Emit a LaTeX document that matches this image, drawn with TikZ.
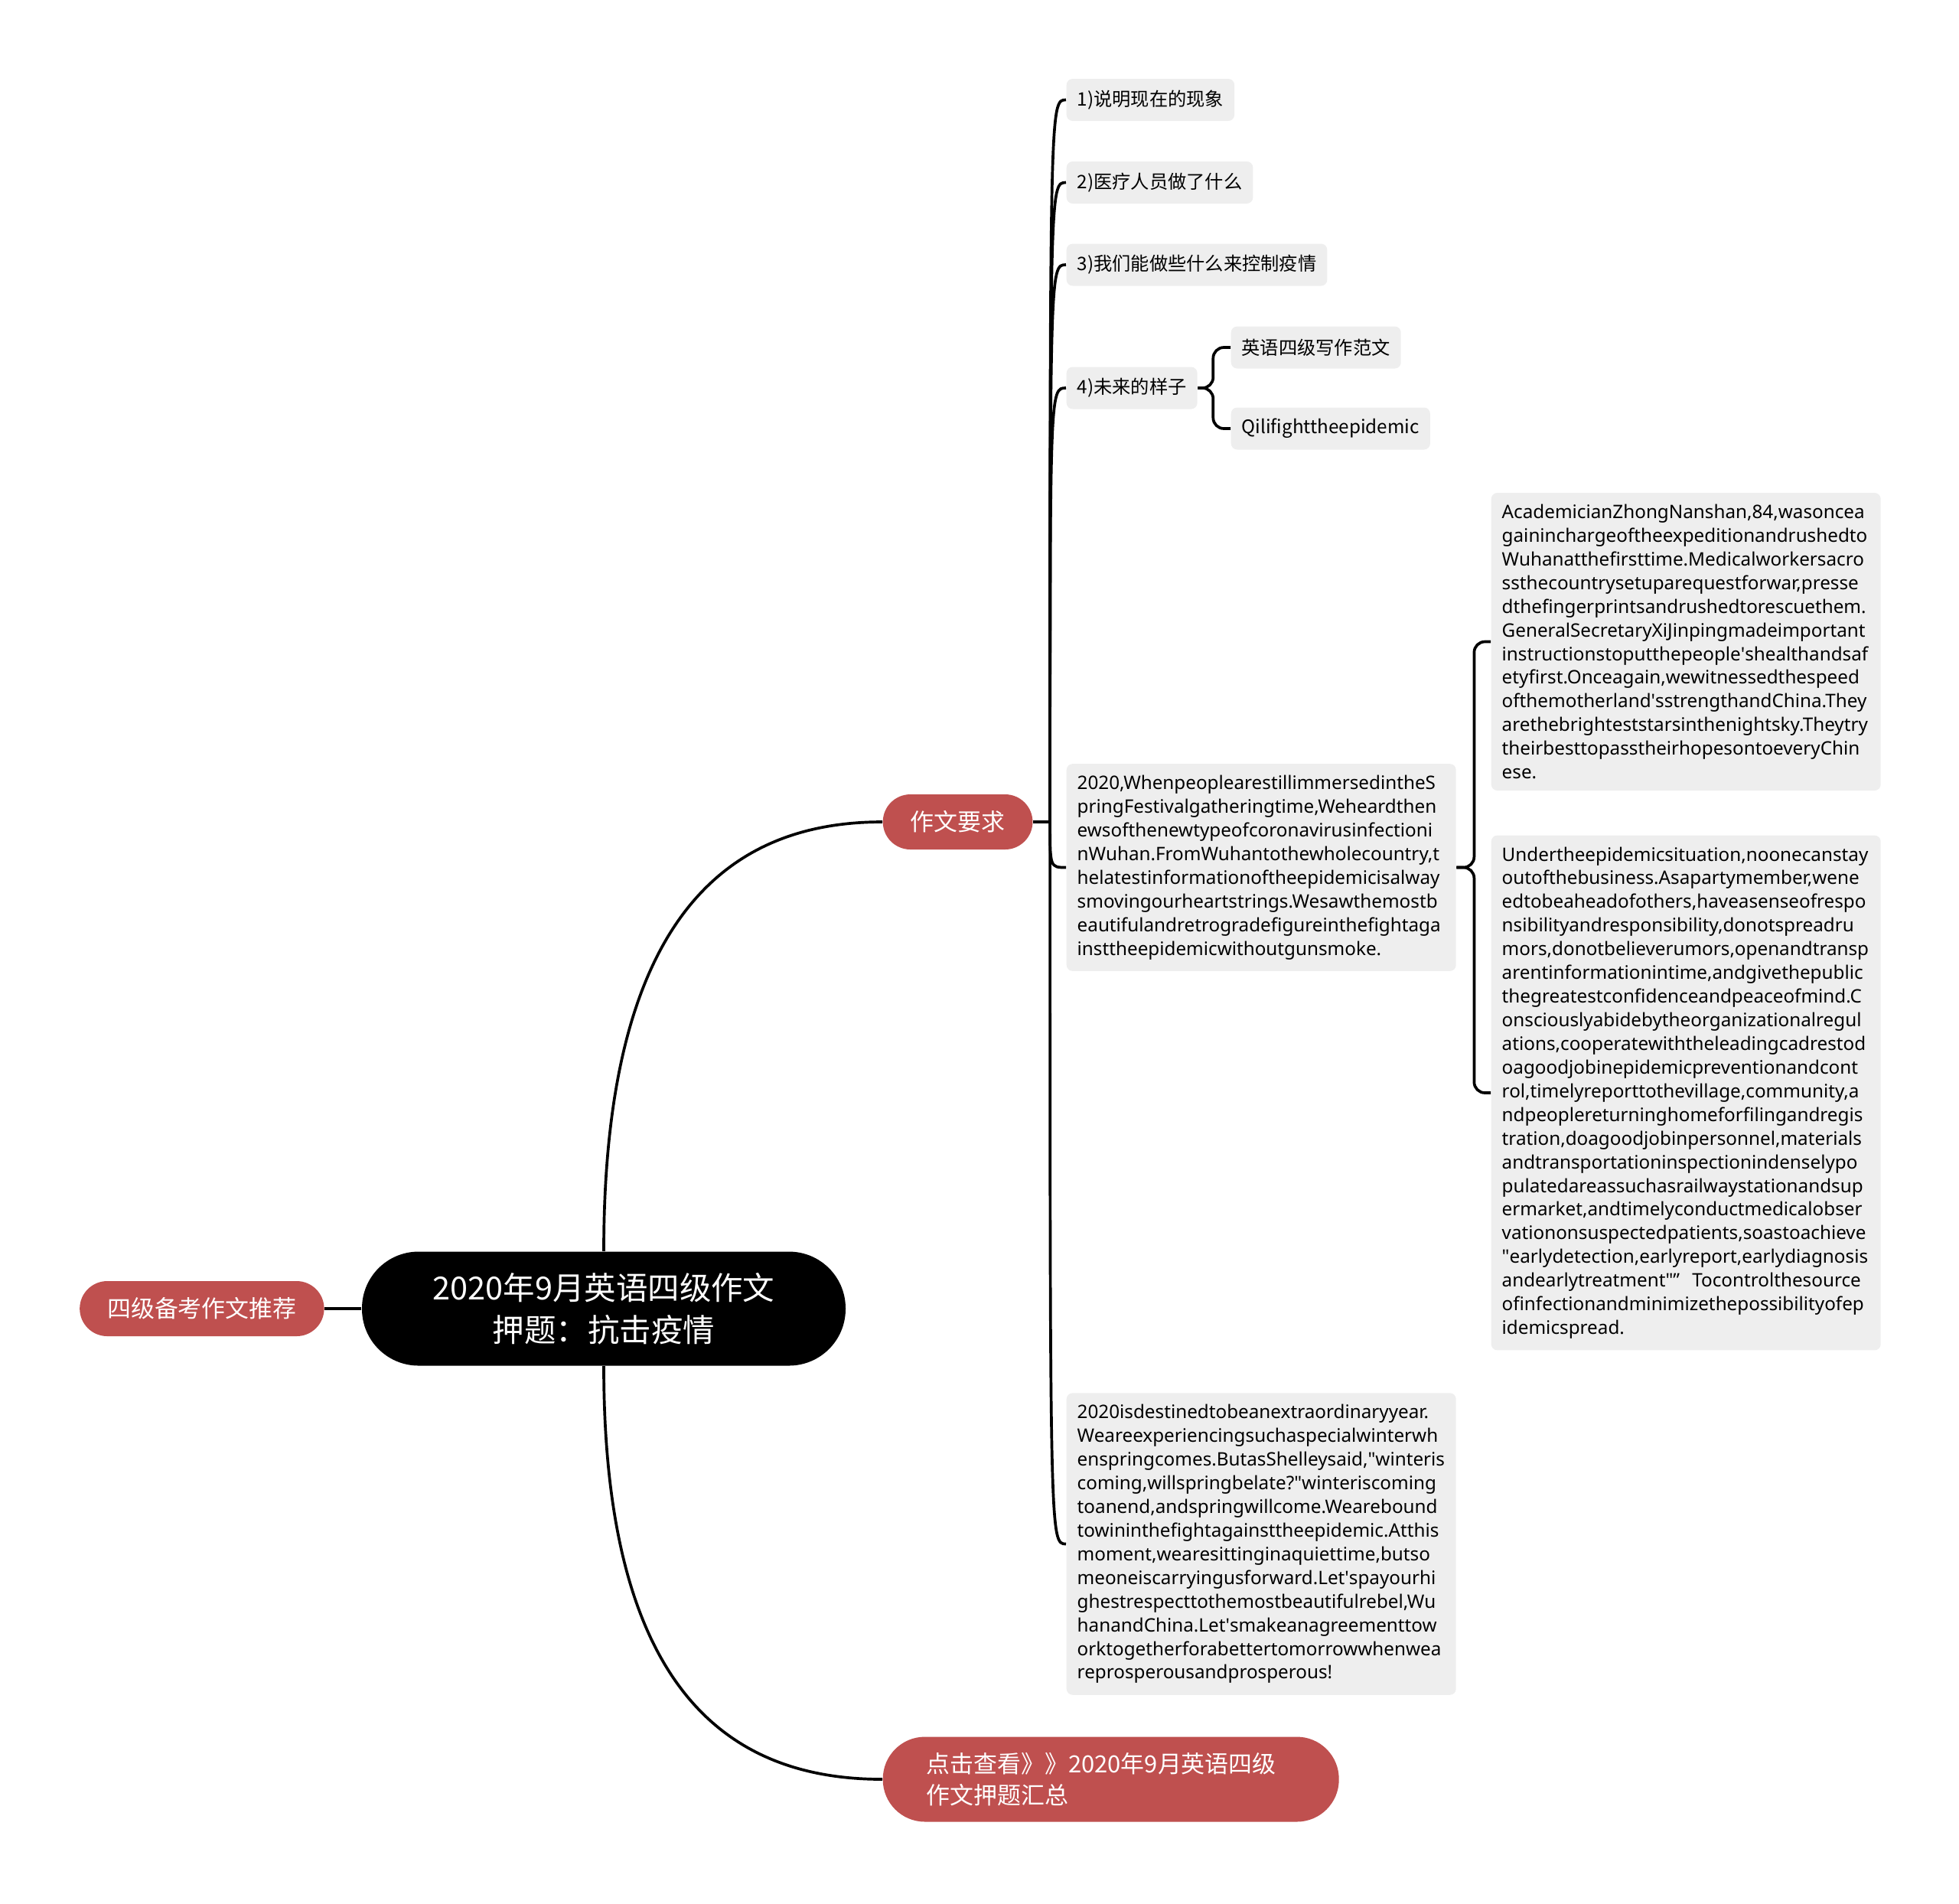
\documentclass[tikz,border=0pt]{standalone}
\usepackage{fontspec}
\setmainfont{Noto Sans}
\newfontfamily\cjk{Noto Sans CJK SC}
\usepackage{tikz}
\usetikzlibrary{positioning,calc}
\definecolor{mmred}{HTML}{BF504F}
\definecolor{mmgray}{HTML}{EEEEEE}
\hyphenpenalty=10000
\exhyphenpenalty=10000
\newcommand{\qq}{\textquotedbl}
\newcommand{\ap}{\textquotesingle}

\begin{document}
\begin{tikzpicture}[
  central/.style={fill=black, text=white, rounded corners=0.74cm,
                  minimum width=6.32cm, minimum height=1.49cm, align=center,
                  font=\cjk\fontsize{11.8}{15.8}\selectfont},
  topic/.style={fill=mmred, text=white, rounded corners=0.36cm,
                minimum height=0.72cm, inner xsep=0.36cm,
                font=\cjk\fontsize{8.8}{11.7}\selectfont},
  leaf/.style={fill=mmgray, rounded corners=0.08cm, minimum height=0.55cm,
               inner xsep=0.14cm, font=\cjk\fontsize{6.9}{8.8}\selectfont},
  note/.style={leaf, text width=4.81cm, align=left, inner ysep=0.15cm,
               font=\fontsize{6.9}{8.8}\selectfont},
  link/.style={draw=black, line width=1.05pt},
  bracket/.style={link, rounded corners=0.14cm}
]
\useasboundingbox (0,0) rectangle (25.6,-24.87);

% Centre and main topics
\node[central] (root) at (7.89,-17.10) {2020年9月英语四级作文\\押题：抗击疫情};
\node[topic, left=0.48cm of root] (tip) {四级备考作文推荐};
\node[topic, anchor=west] (req) at (11.53,-10.74) {作文要求};
\node[topic, anchor=west, rounded corners=0.55cm, minimum height=1.11cm,
      text width=4.82cm, align=left, inner xsep=0.57cm] (more) at (11.53,-23.25)
      {点击查看》》2020年9月英语四级\\作文押题汇总};

% Requirements
\node[leaf, anchor=west] (c1) at (13.93,-1.305) {1)说明现在的现象};
\node[leaf, anchor=west] (c2) at (13.93,-2.385) {2)医疗人员做了什么};
\node[leaf, anchor=west] (c3) at (13.93,-3.46) {3)我们能做些什么来控制疫情};
\node[leaf, anchor=west] (c4) at (13.93,-5.07) {4)未来的样子};
\node[leaf, anchor=west] (c4a) at (16.08,-4.54) {英语四级写作范文};
\node[leaf, anchor=west] (c4b) at (16.08,-5.60) {Qilifighttheepidemic};

% Essays
\node[note, anchor=west] (b5) at (13.93,-11.335) {2020,WhenpeoplearestillimmersedintheS\\
pringFestivalgatheringtime,Weheardthen\\
ewsofthenewtypeofcoronavirusinfectioni\\
nWuhan.FromWuhantothewholecountry,t\\
helatestinformationoftheepidemicisalway\\
smovingourheartstrings.Wesawthemostb\\
eautifulandretrogradefigureinthefightaga\\
insttheepidemicwithoutgunsmoke.};
\node[note, anchor=west] (ac) at (19.48,-8.385) {AcademicianZhongNanshan,84,wasoncea\\
gaininchargeoftheexpeditionandrushedto\\
Wuhanatthefirsttime.Medicalworkersacro\\
ssthecountrysetuparequestforwar,presse\\
dthefingerprintsandrushedtorescuethem.\\
GeneralSecretaryXiJinpingmadeimportant\\
instructionstoputthepeople\ap shealthandsaf\\
etyfirst.Onceagain,wewitnessedthespeed\\
ofthemotherland\ap sstrengthandChina.They\\
arethebrighteststarsinthenightsky.Theytry\\
theirbesttopasstheirhopesontoeveryChin\\
ese.};
\node[note, anchor=west] (un) at (19.48,-14.28) {Undertheepidemicsituation,noonecanstay\\
outofthebusiness.Asapartymember,wene\\
edtobeaheadofothers,haveasenseofrespo\\
nsibilityandresponsibility,donotspreadru\\
mors,donotbelieverumors,openandtransp\\
arentinformationintime,andgivethepublic\\
thegreatestconfidenceandpeaceofmind.C\\
onsciouslyabidebytheorganizationalregul\\
ations,cooperatewiththeleadingcadrestod\\
oagoodjobinepidemicpreventionandcont\\
rol,timelyreporttothevillage,community,a\\
ndpeoplereturninghomeforfilingandregis\\
tration,doagoodjobinpersonnel,materials\\
andtransportationinspectionindenselypo\\
pulatedareassuchasrailwaystationandsup\\
ermarket,andtimelyconductmedicalobser\\
vationonsuspectedpatients,soastoachieve\\
\qq earlydetection,earlyreport,earlydiagnosis\\
andearlytreatment\qq ”~~Tocontrolthesource\\
ofinfectionandminimizethepossibilityofep\\
idemicspread.};
\node[note, anchor=west] (b6) at (13.93,-20.175) {2020isdestinedtobeanextraordinaryyear.\\
Weareexperiencingsuchaspecialwinterwh\\
enspringcomes.ButasShelleysaid,\qq winteris\\
coming,willspringbelate?\qq winteriscoming\\
toanend,andspringwillcome.Wearebound\\
towininthefightagainsttheepidemic.Atthis\\
moment,wearesittinginaquiettime,butso\\
meoneiscarryingusforward.Let\ap spayourhi\\
ghestrespecttothemostbeautifulrebel,Wu\\
hanandChina.Let\ap smakeanagreementtow\\
orktogetherforabettertomorrowwhenwea\\
reprosperousandprosperous!};

% Connectors
\draw[link] (root) -- (tip);
\draw[link] (root.north) .. controls (7.89,-12.00) and (9.50,-10.74) .. (req.west);
\draw[link] (root.south) .. controls (7.89,-22.06) and (9.50,-23.25) .. (more.west);
\coordinate[right=0.22cm of req] (hub);
\draw[link] (req) -- (hub);
\foreach \c in {c1,c2,c3,c4,b5,b6}
  \draw[link] (hub) .. controls (hub |- \c.west) .. (\c.west);
\draw[bracket] (c4.east) -- ++(0.2,0) |- (c4a.west);
\draw[bracket] (c4.east) -- ++(0.2,0) |- (c4b.west);
\draw[bracket] (b5.east) -- ++(0.23,0) |- (ac.west);
\draw[bracket] (b5.east) -- ++(0.23,0) |- (un.west);
\end{tikzpicture}
\end{document}
